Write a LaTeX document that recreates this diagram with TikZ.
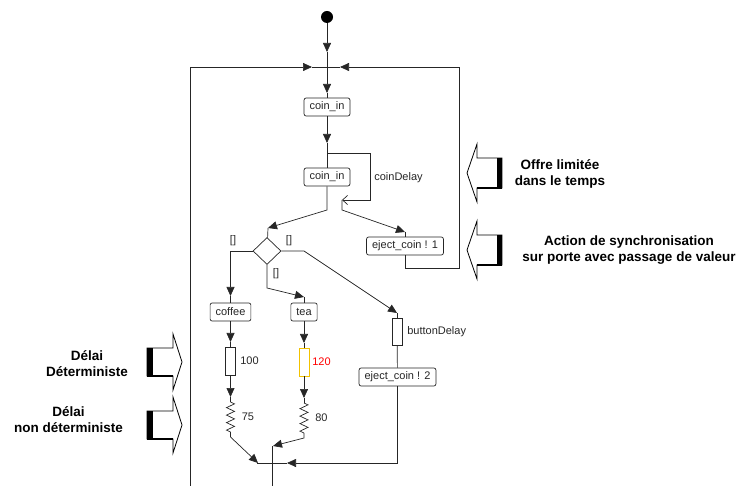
\documentclass[tikz,border=0pt]{standalone}
\usepackage{fontspec}
\setmainfont{Liberation Sans}
\usetikzlibrary{arrows.meta,shapes.geometric,decorations.pathmorphing}
\definecolor{trait}{HTML}{262626}
\definecolor{jaune}{HTML}{F2C200}

\begin{document}
\begin{tikzpicture}[x=1pt, y=-1pt, >={Triangle[length=9pt,width=8pt]},
	line width=0.7pt, color=trait,
	every node/.style={font=\fontsize{11}{13}\selectfont},
	action/.style={draw=trait, fill=white, rounded corners=2pt, minimum height=18pt, inner xsep=5.5pt, inner ysep=0pt},
	delai/.style={draw=trait, fill=white, minimum width=10pt, minimum height=28pt, inner sep=0pt},
	ressort/.style={decorate, decoration={zigzag, segment length=7.5pt, amplitude=4pt}},
	gros/.style={text=black, align=center, font=\bfseries\fontsize{13.5}{16}\selectfont},
	etiq/.style={anchor=west, inner sep=0pt}]
	\useasboundingbox (0,0) rectangle (739,486);

	% noeuds du processus
	\node[circle, fill=black, inner sep=0pt, minimum size=12pt] (debut) at (327,17) {};
	\coordinate (jonction) at (327,67);
	\node[action] (coin1) at (327,107) {coin\_in};
	\node[action] (coin2) at (327,177) {coin\_in};
	\node[action] (eject1) at (405,246) {eject\_coin ! 1};
	\node[diamond, draw=trait, fill=white, inner sep=0pt, minimum width=28pt, minimum height=27pt] (choix) at (267,251) {};
	\node[action] (coffee) at (230.5,312) {coffee};
	\node[action] (tea) at (304,312) {tea};
	\node[delai] (d100) at (230.5,361) {};
	\node[delai, draw=jaune] (d120) at (304,362) {};
	\node[delai, minimum height=27pt] (dbouton) at (397,331.5) {};
	\node[action] (eject2) at (397.5,377) {eject\_coin ! 2};
	\coordinate (bouclebas) at (190,486);
	\coordinate (sortie) at (272,486);
	\coordinate (delai1) at (342,200);

	% entree et boucles
	\draw[->] (debut) -- (327,52);
	\draw (327,52) -- (jonction);
	\draw[->] (jonction) -- (327,93);
	\draw (327,93) -- (coin1);
	\draw[->] (bouclebas) |- (312,67);
	\draw (312,67) -- (jonction);
	\draw[->] (eject1.south) |- (459,268) |- (340,67);
	\draw (340,67) -- (jonction);

	% coin_in et delai
	\draw[->] (coin1) -- (327,143);
	\draw (327,143) -- (coin2);
	\draw[-{Straight Barb[length=5pt,width=9pt]}] (327,153) -| (370,200) -- (delai1);
	\draw[->] (delai1) -- (342,210) -- (405,232);
	\draw (405,232) -- (eject1);
	\draw[->] (coin2) -- (327,210) -- (268,228);
	\draw (268,228) -- (choix);

	% choix
	\draw[->] (choix.west) -- (230.5,251) -- (230.5,296);
	\draw (230.5,296) -- (coffee);
	\draw[->] (choix.south) -- (267,288) -- (304,297);
	\draw (304,297) -- (tea);
	\draw[->] (choix.east) -- (304,251) -- (397,313);
	\draw (397,313) -- (dbouton);
	\node (g1) at (233,241) {[]};
	\node (g2) at (289,241) {[]};
	\node (g3) at (276,274) {[]};

	% branche coffee
	\draw[->] (coffee) -- (230.5,342);
	\draw (230.5,342) -- (d100);
	\draw[->] (d100) -- (230.5,397);
	\draw (230.5,397) -- (230.5,402);
	\draw[ressort] (230.5,402) -- (230.5,432);
	\draw[->] (230.5,432) -- (230.5,437) -- (258,463);

	% branche tea
	\draw[->] (tea) -- (304,343);
	\draw (304,343) -- (d120);
	\draw[->] (d120) -- (304,398);
	\draw (304,398) -- (304,403);
	\draw[ressort] (304,403) -- (304,433);
	\draw[->] (304,433) -- (304,438) -- (273,446);
	\draw (272,446) -- (sortie);

	% branche eject
	\draw (dbouton) -- (eject2);
	\draw[->] (eject2) |- (287,463);
	\draw (287,463) -- (257,463);

	% etiquettes
	\node[etiq] (lcoin) at (374,178) {coinDelay};
	\node[etiq] (lbouton) at (407,332) {buttonDelay};
	\node[etiq] (l100) at (240,361) {100};
	\node[etiq, text=red] (l120) at (312,362) {120};
	\node[etiq] (l75) at (241.5,417) {75};
	\node[etiq] (l80) at (315,418) {80};

	% grosses fleches
	\foreach \y in {173,250} {
		\draw[black, line width=0.8pt, fill=white] (467,\y) -- (477,\y-29) -- (477,\y-15) -- (502,\y-15) -- (502,\y+15) -- (477,\y+15) -- (477,\y+29) -- cycle;
		\fill[black] (497,\y-15) rectangle (502,\y+15);
		\draw[black, line width=1.6pt] (477,\y+15) -- (502,\y+15);
	}
	\foreach \y in {362,425} {
		\draw[black, line width=0.8pt, fill=white] (182,\y) -- (173,\y-28) -- (173,\y-14) -- (147,\y-14) -- (147,\y+14) -- (173,\y+14) -- (173,\y+28) -- cycle;
		\fill[black] (147,\y-14) rectangle (153,\y+14);
		\draw[black, line width=1.6pt] (147,\y+14) -- (173,\y+14);
	}
	\node[gros] (offre) at (560,173.5) {Offre limitée\\dans le temps};
	\node[gros] (synchro) at (629,250) {Action de synchronisation\\sur porte avec passage de valeur};
	\node[gros] (deter) at (87,363.5) {Délai\\Déterministe};
	\node[gros] (nondeter) at (68.5,419.5) {Délai\\non déterministe};
\end{tikzpicture}
\end{document}
